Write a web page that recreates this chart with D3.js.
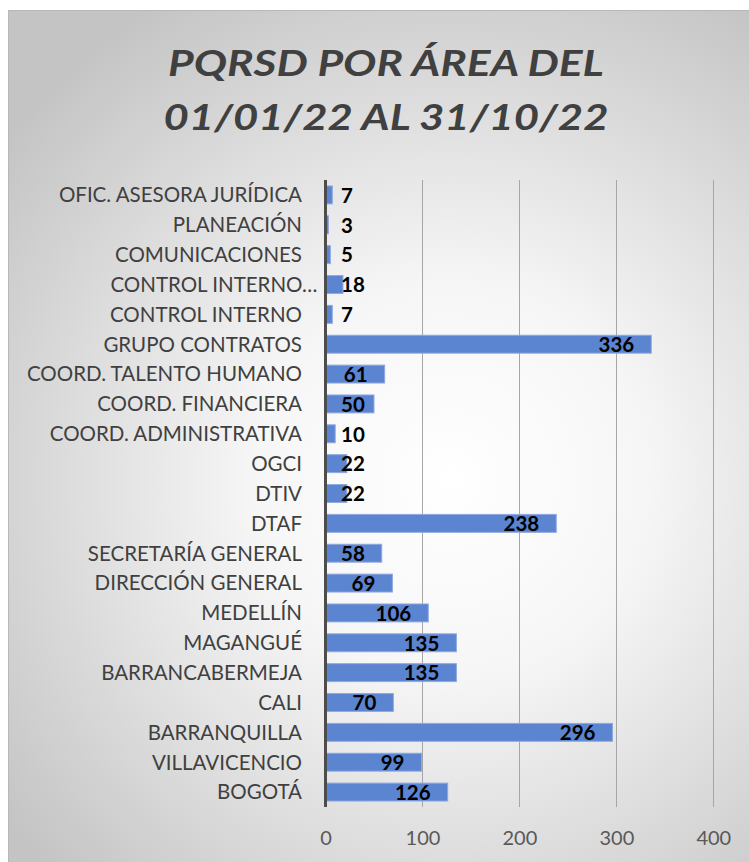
<!DOCTYPE html>
<html>
<head>
<meta charset="utf-8">
<script src="https://cdn.jsdelivr.net/npm/d3@7"></script>
<style>
  body { margin: 0; background: #fff; }
  svg { display: block; }
</style>
</head>
<body>
<div id="chart"></div>
<script>
// data, top to bottom as shown
const areas = [
  "OFIC. ASESORA JURÍDICA",
  "PLANEACIÓN",
  "COMUNICACIONES",
  "CONTROL INTERNO…",
  "CONTROL INTERNO",
  "GRUPO CONTRATOS",
  "COORD. TALENTO HUMANO",
  "COORD. FINANCIERA",
  "COORD. ADMINISTRATIVA",
  "OGCI",
  "DTIV",
  "DTAF",
  "SECRETARÍA GENERAL",
  "DIRECCIÓN GENERAL",
  "MEDELLÍN",
  "MAGANGUÉ",
  "BARRANCABERMEJA",
  "CALI",
  "BARRANQUILLA",
  "VILLAVICENCIO",
  "BOGOTÁ"
];
const counts = [7, 3, 5, 18, 7, 336, 61, 50, 10, 22, 22, 238, 58, 69, 106, 135, 135, 70, 296, 99, 126];
const xTicks = [0, 100, 200, 300, 400];
const titleLines = ["PQRSD POR ÁREA DEL", "01/01/22 AL 31/10/22"];

const W = 749, H = 862;
const margin = { top: 180, right: 36, bottom: 55, left: 325.5 };
const font = "Lato, 'Open Sans', sans-serif";

const svg = d3.select("#chart")
  .append("svg")
  .attr("width", W)
  .attr("height", H);

// background gradient
const defs = svg.append("defs");
const grad = defs.append("radialGradient")
  .attr("id", "bg")
  .attr("gradientUnits", "userSpaceOnUse")
  .attr("cx", 450).attr("cy", 480).attr("r", 560);
grad.append("stop").attr("offset", "0%").attr("stop-color", "#ffffff");
grad.append("stop").attr("offset", "35%").attr("stop-color", "#f6f6f6");
grad.append("stop").attr("offset", "100%").attr("stop-color", "#c4c4c4");

svg.append("rect")
  .attr("x", 8).attr("y", 10)
  .attr("width", W - 8).attr("height", H - 10)
  .attr("fill", "url(#bg)");
svg.append("line")
  .attr("x1", 8.5).attr("x2", 8.5).attr("y1", 10).attr("y2", H)
  .attr("stroke", "#b8b8b8");
svg.append("line")
  .attr("x1", 8).attr("x2", W).attr("y1", 10.5).attr("y2", 10.5)
  .attr("stroke", "#b8b8b8");

// title (stretched to the width of the original condensed face)
const titleWidths = [436, 445];
svg.append("g")
  .selectAll("text")
  .data(titleLines)
  .join("text")
  .attr("x", 386)
  .attr("y", (d, i) => 76 + i * 54)
  .attr("text-anchor", "middle")
  .attr("textLength", (d, i) => titleWidths[i])
  .attr("lengthAdjust", "spacingAndGlyphs")
  .style("font-family", font)
  .style("font-weight", "bold")
  .style("font-style", "italic")
  .style("font-size", "36px")
  .style("fill", "#404040")
  .text((d) => d);

// scales
const x = d3.scaleLinear()
  .domain([0, 400])
  .range([margin.left, 713.3]);

const y = d3.scaleBand()
  .domain(areas)
  .range([margin.top, 807])
  .paddingInner(0.4)
  .paddingOuter(0.2);

// gridlines
svg.append("g")
  .selectAll("line")
  .data(xTicks.slice(1))
  .join("line")
  .attr("x1", (d) => Math.round(x(d)) + 0.5)
  .attr("x2", (d) => Math.round(x(d)) + 0.5)
  .attr("y1", margin.top)
  .attr("y2", 807)
  .attr("stroke", "#a6a6a6")
  .attr("stroke-width", 1);

// x tick labels
const xAxis = svg.append("g")
  .attr("transform", `translate(0, 807)`)
  .call(d3.axisBottom(x).tickValues(xTicks).tickSize(0).tickPadding(24));
xAxis.select(".domain").remove();
xAxis.selectAll("text")
  .style("font-family", font)
  .style("font-size", "20px")
  .style("fill", "#595959");

// bars
svg.append("g")
  .selectAll("rect")
  .data(counts)
  .join("rect")
  .attr("x", x(0))
  .attr("y", (d, i) => y(areas[i]))
  .attr("width", (d) => x(d) - x(0))
  .attr("height", y.bandwidth())
  .attr("fill", "#5b84d1")
  .attr("stroke", "#8fa9e0")
  .attr("stroke-width", 1);

// category labels
const cat = svg.append("g")
  .selectAll("text")
  .data(areas)
  .join("text")
  .attr("x", 302)
  .attr("y", (d) => y(d) + y.bandwidth() / 2)
  .attr("dy", "0.36em")
  .attr("text-anchor", "end")
  .style("font-family", font)
  .style("font-size", "20.5px")
  .style("fill", "#404040")
  .text((d) => d);
// truncated label hangs its ellipsis past the right edge
cat.filter((d) => d.endsWith("…"))
  .attr("x", function () {
    const t = svg.append("text")
      .style("font-family", font)
      .style("font-size", "20.5px")
      .text("…");
    const w = t.node().getComputedTextLength();
    t.remove();
    return 302 + w;
  });

// category axis line
svg.append("line")
  .attr("x1", x(0)).attr("x2", x(0))
  .attr("y1", margin.top).attr("y2", 807)
  .attr("stroke", "#4d4d4d")
  .attr("stroke-width", 3);

// value labels
svg.append("g")
  .selectAll("text")
  .data(counts)
  .join("text")
  .attr("y", (d, i) => y(areas[i]) + y.bandwidth() / 2)
  .attr("dy", "0.38em")
  .style("font-family", font)
  .style("font-weight", "bold")
  .style("font-size", "20.5px")
  .style("fill", "#000")
  .text((d) => d)
  .attr("x", function (d) {
    const w = this.getComputedTextLength();
    return Math.max(x(d) - 17 - w, 341);
  });
</script>
</body>
</html>
